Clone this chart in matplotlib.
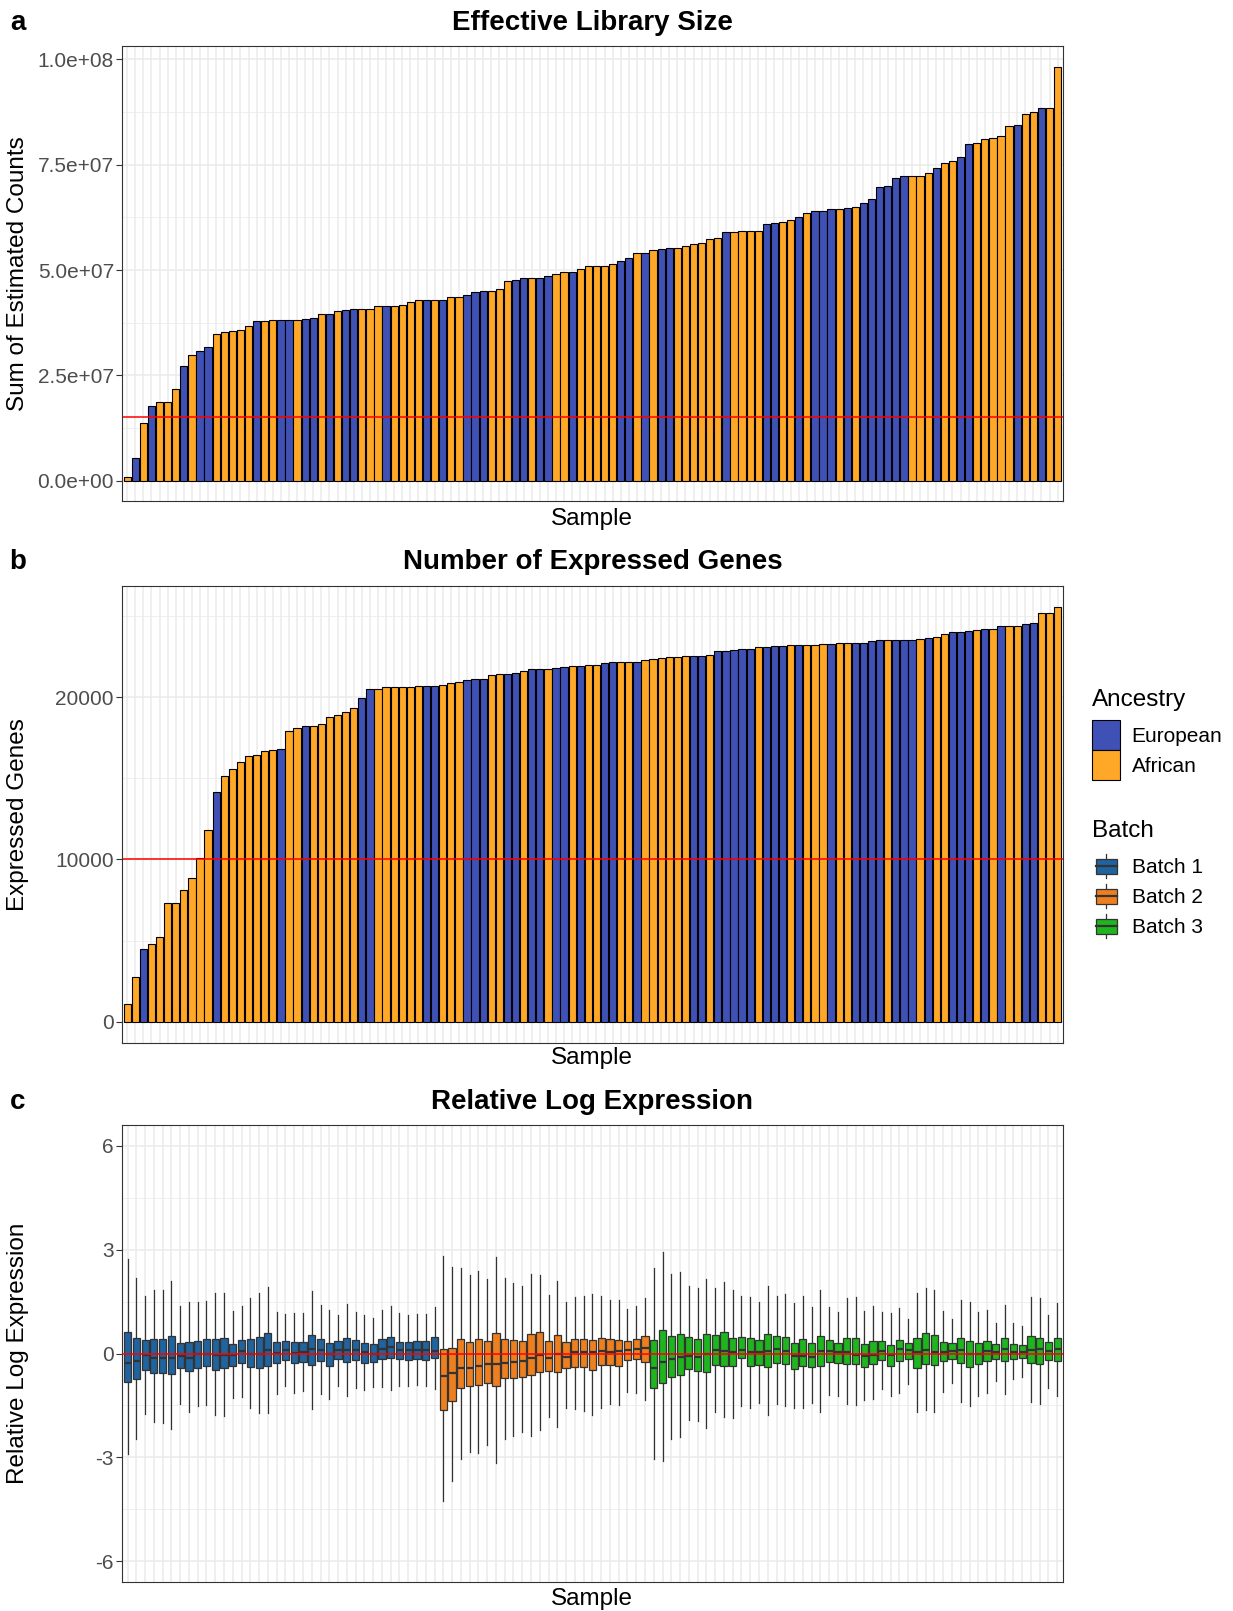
import matplotlib
matplotlib.use("Agg")
import matplotlib.pyplot as plt
from matplotlib.patches import Patch, Rectangle
from matplotlib.lines import Line2D
from matplotlib.legend_handler import HandlerBase
import numpy as np

plt.rcParams['font.family'] = ['Liberation Sans', 'DejaVu Sans']
plt.rcParams['axes.unicode_minus'] = False

# ---- panel a: effective library size (millions of counts), sorted ----
lib_size_mil = [
    0.79, 5.37, 13.6, 17.8, 18.6, 18.6, 21.7, 27.3, 29.8, 30.7,
    31.7, 34.7, 35.2, 35.5, 35.7, 36.8, 37.8, 37.8, 38.2, 38.2,
    38.2, 38.2, 38.4, 38.7, 39.5, 39.5, 40.3, 40.4, 40.8, 40.8,
    40.8, 41.4, 41.4, 41.5, 41.8, 42.4, 42.8, 42.8, 43.0, 43.0,
    43.7, 43.7, 44.1, 44.7, 45.0, 45.1, 45.5, 47.5, 47.7, 48.0,
    48.2, 48.2, 48.5, 49.1, 49.6, 49.6, 50.2, 51.0, 51.0, 51.0,
    51.5, 52.1, 52.8, 54.0, 54.0, 54.7, 55.1, 55.2, 55.2, 55.7,
    56.1, 56.4, 57.4, 57.7, 59.0, 59.0, 59.2, 59.3, 59.3, 60.8,
    61.2, 61.3, 61.8, 62.6, 63.5, 63.9, 64.0, 64.4, 64.5, 64.6,
    65.0, 65.9, 66.9, 69.8, 69.9, 71.9, 72.3, 72.4, 72.4, 73.0,
    74.3, 75.4, 75.8, 76.9, 79.8, 80.2, 81.0, 81.3, 81.7, 84.1,
    84.5, 87.1, 87.6, 88.5, 88.5, 98.2,
]
# E = European, A = African
lib_ancestry = ("AEAEAAAEAE" "EAAAAAEAAE" "EAEEAEAEEA" "AAEAAAAEAE"
                "AAEEEAAAEE" "AEEAAEAAAA" "AEEAEAEEAA" "AAAAEAAAAE"
                "EAAEAEEEAE" "AEEEEEEAAA" "EAAEEAAAAA" "EAAEAA")

# ---- panel b: number of expressed genes, sorted ----
expr_genes = [
    1087, 2728, 4513, 4820, 5230, 7322, 7343, 8102, 8861, 10092,
    11815, 14133, 15138, 15590, 16000, 16369, 16451, 16697, 16718, 16820,
    17949, 18112, 18215, 18215, 18338, 18789, 18892, 19077, 19323, 19959,
    20513, 20533, 20615, 20656, 20656, 20656, 20697, 20718, 20718, 20759,
    20859, 20962, 21084, 21126, 21126, 21371, 21433, 21433, 21495, 21597,
    21741, 21761, 21761, 21802, 21864, 21925, 21925, 21987, 21987, 22089,
    22192, 22192, 22192, 22192, 22294, 22356, 22418, 22459, 22459, 22561,
    22561, 22561, 22602, 22828, 22869, 22889, 22951, 22971, 23074, 23074,
    23156, 23156, 23197, 23197, 23197, 23197, 23279, 23279, 23320, 23320,
    23361, 23361, 23484, 23525, 23525, 23525, 23545, 23545, 23607, 23648,
    23689, 23894, 23997, 24038, 24058, 24140, 24202, 24202, 24366, 24366,
    24407, 24510, 24551, 25186, 25207, 25576,
]
expr_ancestry = ("AAEAAAAAAA" "AEAAAAAAAE" "AAEAAAAAAE" "EAAAAAAEEA"
                 "AAEEEAAEEA" "EEAEEAEAAE" "EAAEAAAAAA" "EEAEEEEEAE"
                 "EEAEAAAEAA" "EEEEAEEEAE" "AAEEEAEAEA" "AEEAAA")

# ---- panel c: relative log expression box stats per sample ----
batch_names = ['Batch 1', 'Batch 2', 'Batch 3']
batch_sizes = [36, 24, 47]
rle_whishi = [
    2.73, 2.17, 1.67, 1.84, 1.84, 2.10, 1.36, 1.49, 1.49, 1.53,
    1.74, 1.76, 1.22, 1.37, 1.60, 1.76, 1.93, 1.21, 1.13, 1.16,
    1.18, 1.80, 1.39, 1.25, 1.11, 1.43, 1.21, 1.12, 1.02, 1.26,
    1.38, 1.16, 1.12, 1.14, 1.14, 1.35,
    2.83, 2.49, 2.48, 2.26, 2.39, 2.15, 2.80, 2.19, 2.05, 1.96,
    2.31, 2.28, 1.69, 2.10, 1.48, 1.62, 1.67, 1.72, 1.67, 1.54,
    1.54, 1.28, 1.38, 1.60,
    2.47, 2.92, 2.30, 2.34, 1.96, 1.89, 2.15, 1.89, 2.07, 1.84,
    1.67, 1.62, 1.49, 1.94, 1.67, 1.72, 1.45, 1.65, 1.35, 1.83,
    1.35, 1.19, 1.61, 1.62, 1.24, 1.38, 1.19, 1.17, 1.31, 0.99,
    1.76, 1.89, 1.84, 1.22, 1.01, 1.54, 1.49, 1.21, 1.25, 0.88,
    1.41, 0.87, 0.78, 1.62, 1.60, 1.12, 1.46,
]
rle_q3 = [
    0.63, 0.44, 0.39, 0.41, 0.41, 0.51, 0.30, 0.32, 0.37, 0.41,
    0.41, 0.44, 0.28, 0.40, 0.41, 0.47, 0.59, 0.33, 0.37, 0.33,
    0.34, 0.54, 0.43, 0.29, 0.35, 0.44, 0.39, 0.30, 0.27, 0.41,
    0.48, 0.34, 0.32, 0.37, 0.35, 0.47,
    0.14, 0.16, 0.41, 0.34, 0.42, 0.35, 0.58, 0.43, 0.39, 0.36,
    0.56, 0.61, 0.37, 0.54, 0.32, 0.41, 0.41, 0.40, 0.46, 0.41,
    0.40, 0.37, 0.43, 0.51,
    0.39, 0.68, 0.51, 0.56, 0.49, 0.43, 0.56, 0.54, 0.61, 0.44,
    0.48, 0.44, 0.40, 0.56, 0.51, 0.49, 0.30, 0.43, 0.30, 0.51,
    0.39, 0.29, 0.46, 0.46, 0.27, 0.35, 0.35, 0.25, 0.40, 0.29,
    0.46, 0.58, 0.53, 0.34, 0.30, 0.44, 0.37, 0.29, 0.37, 0.27,
    0.44, 0.27, 0.24, 0.51, 0.46, 0.32, 0.44,
]
rle_med = [
    -0.26, -0.23, -0.05, -0.12, -0.14, -0.14, -0.07, -0.12, -0.02, -0.02,
    -0.05, -0.04, -0.04, 0.07, -0.02, -0.01, 0.11, 0.01, 0.09, 0.01,
    0.05, 0.12, 0.09, 0.00, 0.10, 0.09, 0.09, 0.03, 0.00, 0.13,
    0.20, 0.11, 0.10, 0.11, 0.10, 0.08,
    -0.65, -0.55, -0.41, -0.41, -0.36, -0.31, -0.31, -0.26, -0.24, -0.22,
    -0.12, -0.04, -0.14, -0.02, -0.10, 0.03, 0.03, 0.03, 0.08, 0.05,
    0.06, 0.10, 0.13, 0.17,
    -0.42, -0.24, -0.16, -0.10, -0.07, -0.10, -0.02, 0.10, 0.08, 0.03,
    0.11, 0.03, 0.03, 0.08, 0.13, 0.08, -0.07, -0.07, -0.09, 0.08,
    0.06, 0.03, 0.03, -0.04, -0.07, -0.04, 0.08, -0.04, 0.13, 0.10,
    0.03, 0.10, 0.03, 0.05, 0.06, 0.10, -0.02, 0.00, 0.08, 0.05,
    0.13, 0.05, 0.05, 0.10, 0.13, 0.08, 0.13,
]
rle_q1 = [
    -0.81, -0.74, -0.48, -0.55, -0.57, -0.60, -0.41, -0.51, -0.42, -0.36,
    -0.48, -0.43, -0.36, -0.27, -0.40, -0.42, -0.37, -0.28, -0.18, -0.28,
    -0.24, -0.33, -0.23, -0.37, -0.16, -0.25, -0.19, -0.26, -0.24, -0.16,
    -0.14, -0.16, -0.19, -0.16, -0.18, -0.14,
    -1.63, -1.38, -0.99, -0.94, -0.91, -0.86, -0.94, -0.72, -0.72, -0.69,
    -0.63, -0.53, -0.50, -0.53, -0.43, -0.39, -0.39, -0.48, -0.34, -0.34,
    -0.36, -0.19, -0.16, -0.24,
    -1.00, -0.84, -0.69, -0.63, -0.45, -0.51, -0.52, -0.34, -0.36, -0.36,
    -0.14, -0.36, -0.34, -0.39, -0.26, -0.31, -0.45, -0.36, -0.38, -0.36,
    -0.24, -0.26, -0.29, -0.29, -0.39, -0.29, -0.19, -0.36, -0.21, -0.16,
    -0.41, -0.31, -0.34, -0.23, -0.16, -0.28, -0.39, -0.29, -0.23, -0.16,
    -0.21, -0.16, -0.12, -0.28, -0.31, -0.19, -0.23,
]
rle_whislo = [
    -2.91, -2.46, -1.76, -1.97, -2.02, -2.19, -1.47, -1.68, -1.53, -1.49,
    -1.78, -1.80, -1.29, -1.25, -1.57, -1.73, -1.71, -1.16, -0.95, -1.13,
    -1.09, -1.61, -1.18, -1.30, -0.93, -1.24, -1.01, -1.06, -0.98, -0.98,
    -1.05, -0.94, -0.95, -0.92, -0.95, -1.03,
    -4.27, -3.69, -3.06, -2.84, -2.86, -2.65, -3.15, -2.48, -2.38, -2.27,
    -2.38, -2.21, -1.83, -2.12, -1.58, -1.59, -1.66, -1.78, -1.58, -1.47,
    -1.49, -1.10, -1.13, -1.35,
    -3.06, -3.11, -2.48, -2.41, -1.92, -1.95, -2.14, -1.68, -1.83, -1.85,
    -1.51, -1.58, -1.42, -1.77, -1.45, -1.53, -1.58, -1.58, -1.42, -1.69,
    -1.20, -1.22, -1.45, -1.49, -1.34, -1.32, -1.03, -1.24, -1.15, -0.89,
    -1.69, -1.64, -1.68, -1.11, -0.86, -1.39, -1.51, -1.22, -1.13, -0.79,
    -1.18, -0.74, -0.67, -1.40, -1.45, -1.00, -1.24,
]

lib_cutoff = 1.5e7
gene_cutoff = 10000

anc_colors = {'E': '#3F51B5', 'A': '#FFA726'}
anc_names = {'E': 'European', 'A': 'African'}
batch_colors = {'Batch 1': '#1F639F', 'Batch 2': '#EE7F1F', 'Batch 3': '#1EB51E'}
grid_col = '#EBEBEB'
dark = '#333333'

W, H = 1233, 1611
fig = plt.figure(figsize=(W / 100, H / 100), dpi=100)


def px_axes(left, top, right, bottom):
    # axes placed by pixel box (top-left origin)
    return fig.add_axes([left / W, 1 - bottom / H, (right - left) / W, (bottom - top) / H])


def ftext(x, y, s, **kw):
    fig.text(x / W, 1 - y / H, s, **kw)


def style_panel(ax, n, yticks, yminor, ylim, ylabels):
    ax.set_xlim(0.4, n + 0.6)
    ax.set_ylim(*ylim)
    ax.set_xticks(np.arange(1, n + 1))
    ax.set_xticklabels([])
    ax.set_yticks(yticks)
    ax.set_yticklabels(ylabels)
    ax.set_yticks(yminor, minor=True)
    ax.tick_params(axis='x', length=0)
    ax.tick_params(axis='y', which='major', length=4, width=0.8, color=dark,
                   labelsize=15, labelcolor='#4D4D4D', pad=2)
    ax.tick_params(axis='y', which='minor', length=0)
    ax.grid(True, which='major', color=grid_col, lw=1.1)
    ax.grid(True, which='minor', axis='y', color=grid_col, lw=0.55)
    ax.set_axisbelow(True)
    for s in ax.spines.values():
        s.set_color(dark)
        s.set_linewidth(0.8)


L, R = 122.3, 1062.5
CX = (L + R) / 2

# ---- a ----
ax_a = px_axes(L, 46.2, R, 501.4)
vals_a = np.array(lib_size_mil) * 1e6
xa = np.arange(1, len(vals_a) + 1)
ax_a.bar(xa, vals_a, width=0.9, color=[anc_colors[c] for c in lib_ancestry],
         edgecolor='black', linewidth=0.8)
ax_a.axhline(lib_cutoff, color='red', lw=1.1)
ticks_a = [0, 2.5e7, 5e7, 7.5e7, 1e8]
style_panel(ax_a, len(vals_a), ticks_a, [1.25e7, 3.75e7, 6.25e7, 8.75e7],
            (-0.05 * vals_a.max(), 1.05 * vals_a.max()), ['%.1e' % v for v in ticks_a])

# ---- b ----
ax_b = px_axes(L, 586, R, 1042.5)
vals_b = np.array(expr_genes)
xb = np.arange(1, len(vals_b) + 1)
ax_b.bar(xb, vals_b, width=0.9, color=[anc_colors[c] for c in expr_ancestry],
         edgecolor='black', linewidth=0.8)
ax_b.axhline(gene_cutoff, color='red', lw=1.1)
style_panel(ax_b, len(vals_b), [0, 10000, 20000], [5000, 15000, 25000],
            (-0.05 * vals_b.max(), 1.05 * vals_b.max()), ['0', '10000', '20000'])

# ---- c ----
ax_c = px_axes(L, 1125, R, 1582)
stats = [dict(med=m, q1=a, q3=b, whislo=lo, whishi=hi, fliers=[])
         for m, a, b, lo, hi in zip(rle_med, rle_q1, rle_q3, rle_whislo, rle_whishi)]
xc = np.arange(1, len(stats) + 1)
bp = ax_c.bxp(stats, positions=xc, widths=0.82, patch_artist=True, showfliers=False,
              showcaps=False, manage_ticks=False,
              boxprops=dict(edgecolor=dark, linewidth=0.9),
              whiskerprops=dict(color=dark, linewidth=0.9),
              medianprops=dict(color=dark, linewidth=1.6))
sample_batch = [b for b, n in zip(batch_names, batch_sizes) for _ in range(n)]
for box, b in zip(bp['boxes'], sample_batch):
    box.set_facecolor(batch_colors[b])
ax_c.axhline(0, color='red', lw=1.1, zorder=3)
style_panel(ax_c, len(stats), [-6, -3, 0, 3, 6], [-4.5, -1.5, 1.5, 4.5],
            (-6.6, 6.6), ['-6', '-3', '0', '3', '6'])

# ---- texts ----
titles = [('a', 'Effective Library Size', 'Sum of Estimated Counts', 22.5, 519, 273.8),
          ('b', 'Number of Expressed Genes', 'Expressed Genes', 562, 1058, 814.2),
          ('c', 'Relative Log Expression', 'Relative Log Expression', 1102, 1599, 1353.5)]
for letter, title, ylab, ty, sy, ly in titles:
    ftext(17.5, ty, letter, fontsize=20, fontweight='bold', ha='center', va='center')
    ftext(CX, ty, title, fontsize=20, fontweight='bold', ha='center', va='center')
    ftext(CX, sy, 'Sample', fontsize=17.5, ha='center', va='center')
    ftext(18.5, ly, ylab, fontsize=17.5, rotation=90, ha='center', va='center')


# ---- legends ----
class BoxKey(HandlerBase):
    def create_artists(self, legend, orig_handle, xdescent, ydescent, width, height,
                       fontsize, trans):
        x0, y0 = -xdescent, -ydescent
        cx = x0 + width / 2
        whisk = Line2D([cx, cx], [y0 + 0.1 * height, y0 + 0.9 * height],
                       color=dark, lw=0.9, transform=trans)
        box = Rectangle((x0 + 0.125 * width, y0 + 0.25 * height), 0.75 * width, 0.5 * height,
                        facecolor=orig_handle.get_facecolor(), edgecolor=dark, lw=0.9,
                        transform=trans)
        med = Line2D([x0 + 0.125 * width, x0 + 0.875 * width], [y0 + height / 2] * 2,
                     color=dark, lw=1.6, transform=trans)
        return [whisk, box, med]


ftext(1092, 700, 'Ancestry', fontsize=17.5, ha='left', va='center')
anc_handles = [Patch(facecolor=anc_colors[k], edgecolor='black', lw=0.8, label=anc_names[k])
               for k in ['E', 'A']]
fig.legend(handles=anc_handles, loc='upper left', bbox_to_anchor=(1092 / W, 1 - 720 / H),
           frameon=False, fontsize=15, handlelength=1.35, handleheight=1.84,
           labelspacing=0, handletextpad=0.55, borderpad=0, borderaxespad=0)

ftext(1092, 831, 'Batch', fontsize=17.5, ha='left', va='center')
batch_handles = [Patch(facecolor=batch_colors[b], label=b) for b in batch_names]
fig.legend(handles=batch_handles, loc='upper left', bbox_to_anchor=(1092 / W, 1 - 851 / H),
           frameon=False, fontsize=15, handlelength=1.35, handleheight=1.84,
           labelspacing=0, handletextpad=0.55, borderpad=0, borderaxespad=0,
           handler_map={Patch: BoxKey()})

fig.savefig('out.png', dpi=100)
